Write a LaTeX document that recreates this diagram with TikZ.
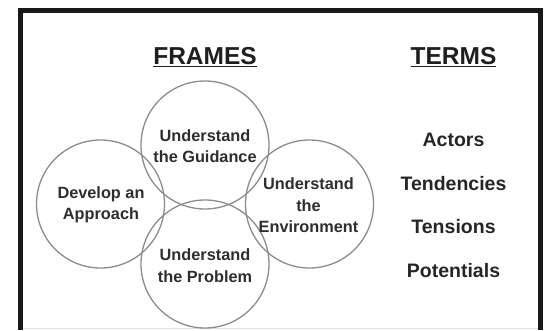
\documentclass[tikz,border=0pt]{standalone}
\usepackage{fontspec}
\setmainfont{Liberation Sans}
\begin{document}
\begin{tikzpicture}[x=1pt,y=-1pt,
  frameline/.style={line width=5pt,black!90},
  venn/.style={circle,draw=black!45,line width=1.3pt,minimum size=128pt,inner sep=0pt},
  vlabel/.style={font=\fontsize{16.3}{21.5}\selectfont\bfseries,text=black!82,align=center},
  heading/.style={font=\fontsize{24.5}{28}\selectfont\bfseries,text=black!88},
  term/.style={font=\fontsize{19.5}{22}\selectfont\bfseries,text=black!85}]
\useasboundingbox (0,0) rectangle (546,330);
\fill[white] (0,0) rectangle (546,330);
% frame (open at bottom)
\draw[frameline] (20,330) -- (20,10) -- (540,10) -- (540,330);
\draw[black!12,line width=0.8pt] (22.5,328.5) -- (537.5,328.5);
% circles
\node[venn] (guid) at (205,145) {};
\node[venn] (prob) at (205,264) {};
\node[venn] (appr) at (100.5,204) {};
\node[venn] (env)  at (309.5,204) {};
% circle labels
\node[vlabel] (tguid) at (205,146) {Understand\\the Guidance};
\node[vlabel] (tprob) at (205,265.5) {Understand\\the Problem};
\node[vlabel] (tappr) at (101,205) {Develop an\\Approach};
\node[vlabel] (tenv)  at (308.5,205.5) {Understand\\the\\Environment};
% headings
\node[heading] (frames) at (205,57.5) {\underline{FRAMES}};
\node[heading] (terms) at (453.5,57.5) {\underline{TERMS}};
% terms
\node[term] (actors) at (453.5,140) {Actors};
\node[term] (tend) at (453.5,184) {Tendencies};
\node[term] (tens) at (453.5,227) {Tensions};
\node[term] (pot) at (453.5,271) {Potentials};
\end{tikzpicture}
\end{document}
